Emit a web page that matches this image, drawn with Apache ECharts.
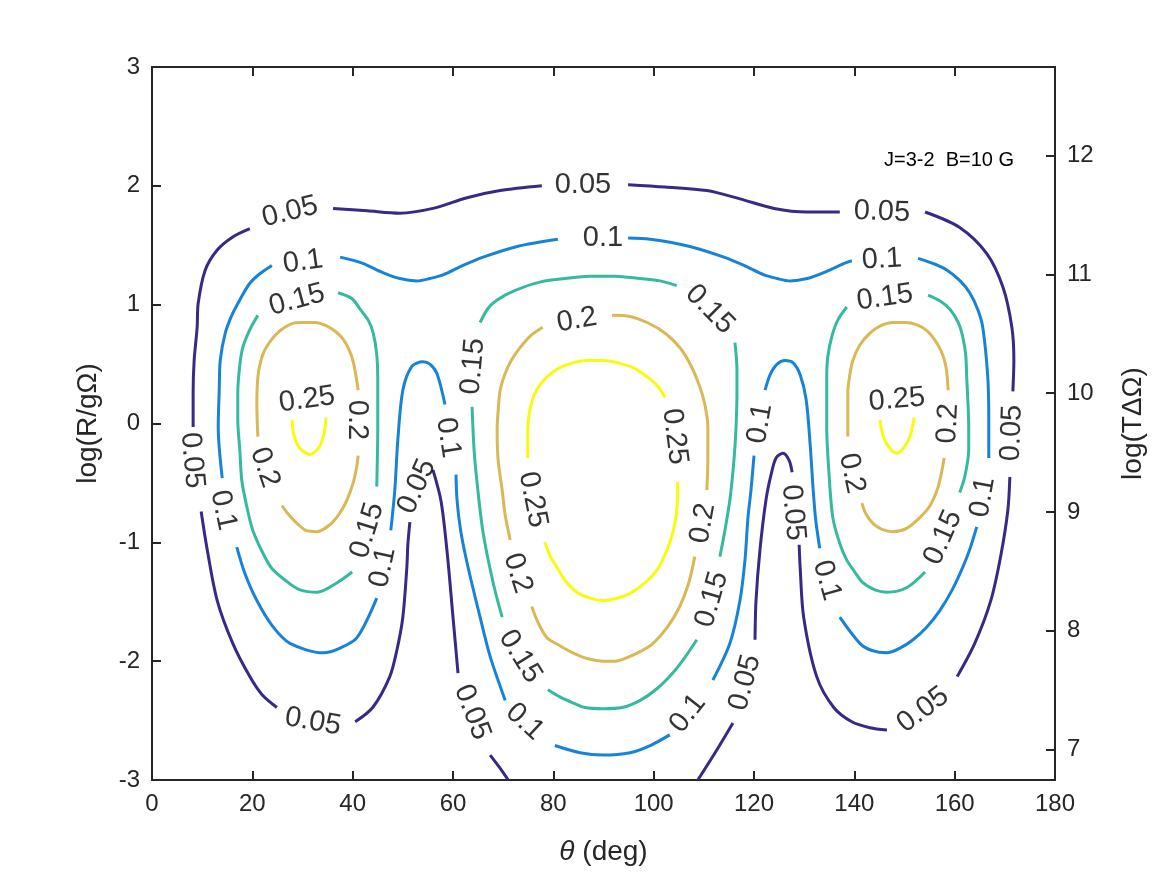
<!DOCTYPE html>
<html>
<head>
<meta charset="utf-8">
<script src="https://cdn.jsdelivr.net/npm/echarts@6/dist/echarts.min.js"></script>
<style>
  html, body { margin: 0; padding: 0; background: #fff; }
  #chart { width: 1167px; height: 875px; }
</style>
</head>
<body>
<div id="chart"></div>
<script>
var chart = echarts.init(document.getElementById('chart'));

// contour levels and their colours (parula)
var levels = ['0.05', '0.1', '0.15', '0.2', '0.25'];
var levelColors = ['#352a87', '#1683d8', '#35b99f', '#d9b855', '#f9fb0e'];

// contour pieces: [theta (deg), log(R/gOmega)], broken where labels sit
var c005 = [
    [[71.0,-3.0],[69.2,-2.89],[67.4,-2.79]],
    [[61.0,-2.10],[60.0,-1.63],[58.8,-1.07],[57.6,-0.65],[56.0,-0.39]],
    [[51.4,-0.83],[51.0,-1.02],[50.8,-1.21],[50.0,-1.63],[48.8,-1.91],[47.4,-2.13],[44.0,-2.39],[40.5,-2.51]],
    [[24.9,-2.39],[21.9,-2.28],[19.5,-2.13],[16.1,-1.85],[13.0,-1.49],[11.0,-1.06],[9.8,-0.74]],
    [[8.2,-0.03],[8.2,0.26],[8.4,0.53],[9.0,0.81],[9.2,1.01],[10.6,1.29],[13.0,1.46],[16.1,1.57],[19.5,1.64]],
    [[36.1,1.81],[42.9,1.79],[49.4,1.77],[56.0,1.81],[62.8,1.90],[69.4,1.96],[77.7,2.00]],
    [[94.9,2.01],[102.3,1.99],[110.6,1.96],[117.2,1.89],[124.0,1.81],[130.6,1.78],[137.1,1.78]],
    [[154.1,1.78],[161.0,1.65],[166.4,1.43],[169.6,1.15],[171.4,0.81],[171.8,0.53],[171.6,0.27]],
    [[171.0,-0.45],[170.6,-0.73],[169.2,-1.11],[167.2,-1.49],[164.0,-1.85],[160.5,-2.13]],
    [[146.5,-2.58],[143.1,-2.56],[139.5,-2.51],[135.9,-2.39],[132.5,-2.13],[129.9,-1.63],[129.2,-1.21],[129.0,-1.02]],
    [[127.6,-0.41],[127.0,-0.31],[125.8,-0.25],[124.4,-0.29],[123.4,-0.43],[122.4,-0.64],[121.2,-1.06],[120.4,-1.49],[120.2,-1.82]],
    [[115.8,-2.52],[112.4,-2.76],[108.8,-3.0]]
];
var c010 = [
    [[80.3,-2.71],[85.3,-2.77],[89.9,-2.79],[95.3,-2.77],[99.3,-2.71],[103.2,-2.62]],
    [[70.4,-2.33],[67.4,-1.96],[65.4,-1.63],[63.0,-1.21],[61.6,-0.92],[60.8,-0.64],[60.6,-0.43]],
    [[58.4,0.16],[56.8,0.42],[55.4,0.50],[54.0,0.52],[51.8,0.48],[50.0,0.28],[49.0,-0.14],[48.4,-0.56],[47.6,-0.90]],
    [[44.8,-1.47],[40.9,-1.80],[37.5,-1.89],[34.1,-1.93],[27.5,-1.85],[24.1,-1.71],[20.9,-1.49],[18.5,-1.26],[16.9,-1.04]],
    [[14.0,-0.46],[13.2,-0.03],[13.4,0.28],[13.6,0.53],[14.6,0.76],[15.9,0.91],[17.5,1.04],[19.5,1.18],[21.5,1.26],[23.9,1.33]],
    [[37.5,1.40],[41.9,1.35],[46.0,1.27],[49.4,1.22],[52.8,1.20],[55.4,1.22],[58.0,1.25],[62.0,1.33],[66.0,1.40],[72.8,1.49],[80.9,1.55]],
    [[94.9,1.56],[99.3,1.55],[107.2,1.49],[114.0,1.40],[118.0,1.33],[122.0,1.25],[124.6,1.22],[127.2,1.20],[130.6,1.22],[133.9,1.27],[138.1,1.35],[139.5,1.37]],
    [[152.7,1.39],[156.1,1.34],[158.5,1.29],[161.1,1.20],[163.0,1.10],[164.6,0.96],[165.6,0.81],[166.6,0.39],[166.8,0.03],[166.8,-0.29]],
    [[164.4,-0.87],[163.0,-1.06],[161.6,-1.21],[159.5,-1.40],[157.1,-1.57],[154.5,-1.71],[151.7,-1.82],[149.1,-1.89],[146.5,-1.93],[143.5,-1.91],[141.1,-1.85],[137.1,-1.63]],
    [[133.1,-1.05],[132.3,-0.81],[131.8,-0.56],[131.2,-0.18],[130.4,0.20],[129.2,0.41],[127.8,0.51],[126.2,0.53],[124.6,0.50],[123.2,0.41],[122.2,0.28]],
    [[120.0,-0.27],[119.4,-0.56],[118.8,-0.79],[118.2,-1.15],[117.2,-1.49],[115.2,-1.85],[111.8,-2.16]]
];
var c015 = [
    [[37.1,1.10],[39.9,1.05],[41.5,0.96],[43.1,0.87],[44.1,0.76],[44.8,0.58],[45.0,0.39],[45.0,-0.03],[44.8,-0.53]],
    [[39.9,-1.25],[36.9,-1.34],[32.9,-1.42],[29.5,-1.40],[26.9,-1.33],[23.9,-1.22],[22.1,-1.09],[20.1,-0.90],[18.9,-0.70],[17.9,-0.48],[17.5,-0.22],[17.1,0.03],[17.1,0.26],[17.5,0.49],[18.1,0.64],[19.5,0.79],[21.1,0.91]],
    [[138.5,0.98],[136.7,0.87],[135.5,0.73],[134.7,0.56],[134.5,0.39],[134.5,-0.03],[134.9,-0.39],[135.7,-0.79],[137.1,-1.01],[138.5,-1.15],[140.1,-1.25],[141.7,-1.34],[144.1,-1.40],[146.5,-1.42],[150.5,-1.38],[154.1,-1.25]],
    [[161.0,-0.58],[162.0,-0.45],[162.8,-0.22],[162.8,-0.03],[162.4,0.39],[162.2,0.58],[161.6,0.73],[160.7,0.85],[159.1,0.96],[157.1,1.03],[154.7,1.08]],
    [[65.4,0.85],[67.0,0.97],[68.8,1.04],[72.4,1.12],[77.3,1.19],[82.3,1.22],[87.3,1.24],[92.3,1.24],[97.3,1.22],[101.3,1.20],[104.6,1.16]],
    [[116.2,0.68],[116.6,0.45],[116.6,0.26],[116.4,-0.05],[116.0,-0.31],[115.2,-0.64],[114.2,-0.90],[113.2,-1.12]],
    [[108.6,-1.82],[106.2,-1.97],[103.8,-2.10],[100.7,-2.23],[97.3,-2.33],[93.7,-2.39],[89.9,-2.40],[86.3,-2.39],[83.9,-2.35],[81.3,-2.30],[78.9,-2.24]],
    [[69.8,-1.63],[68.0,-1.34],[66.0,-0.92],[64.8,-0.50],[64.2,-0.22],[63.8,0.14]]
];
var c020 = [
    [[21.1,-0.11],[20.9,0.16],[21.1,0.39],[21.7,0.53],[22.5,0.62],[23.9,0.71],[25.5,0.78],[27.9,0.84],[30.1,0.85],[32.5,0.85],[34.9,0.82],[36.7,0.77],[38.1,0.71],[39.3,0.62],[40.1,0.52],[40.7,0.39],[41.1,0.28]],
    [[41.1,-0.27],[40.7,-0.39],[40.1,-0.50],[38.9,-0.64],[37.5,-0.75],[35.5,-0.85],[32.9,-0.91],[30.7,-0.90],[28.9,-0.84],[27.1,-0.76],[25.9,-0.69]],
    [[138.7,-0.11],[138.7,0.11],[138.7,0.26],[139.1,0.41],[139.7,0.53],[141.1,0.66],[143.1,0.76],[145.1,0.82],[147.7,0.85],[150.1,0.85],[152.5,0.83],[154.5,0.78],[156.1,0.70],[157.3,0.61],[158.1,0.51],[158.5,0.40],[158.7,0.28]],
    [[157.9,-0.29],[157.3,-0.43],[156.5,-0.56],[155.1,-0.69],[153.1,-0.79],[150.5,-0.88],[147.7,-0.91],[145.5,-0.89],[143.7,-0.84],[142.3,-0.76],[141.5,-0.67]],
    [[91.7,0.91],[95.3,0.90],[98.7,0.85],[102.3,0.76],[105.2,0.64],[107.4,0.49],[109.2,0.31],[110.2,0.16],[110.8,-0.03],[110.8,-0.31],[110.6,-0.56]],
    [[108.2,-1.12],[107.0,-1.34],[105.2,-1.54],[102.8,-1.71],[99.9,-1.85],[97.3,-1.92],[94.7,-1.97],[92.3,-2.00],[89.9,-2.00],[86.9,-1.98],[83.9,-1.93],[81.3,-1.87],[78.7,-1.80],[76.9,-1.67],[75.7,-1.54]],
    [[71.4,-0.98],[70.4,-0.77],[69.8,-0.56],[69.0,-0.31],[68.8,-0.05],[69.0,0.11],[69.4,0.28],[70.4,0.42],[71.6,0.53],[73.4,0.64],[75.5,0.74],[77.9,0.81]]
];
var c025 = [
    [[27.9,0.03],[28.3,-0.10],[29.5,-0.21],[31.5,-0.26],[33.3,-0.20],[34.3,-0.08],[34.7,0.05]],
    [[145.1,0.03],[145.7,-0.10],[146.9,-0.20],[148.5,-0.25],[150.1,-0.19],[151.3,-0.08],[151.9,0.05]],
    [[74.9,-0.29],[74.9,-0.05],[75.3,0.11],[76.5,0.27],[78.7,0.39],[81.3,0.47],[83.9,0.51],[86.9,0.53],[89.9,0.53],[92.9,0.51],[95.9,0.47],[98.5,0.40],[100.7,0.32],[102.3,0.22]],
    [[104.8,-0.49],[104.6,-0.73],[103.8,-0.92],[102.4,-1.09],[100.7,-1.23],[98.3,-1.34],[95.3,-1.43],[92.7,-1.47],[89.9,-1.49],[87.3,-1.47],[84.7,-1.42],[82.5,-1.33],[80.7,-1.21],[79.3,-1.11],[78.3,-1.00]]
];

// inline labels: [theta, log(R/gOmega), rotation in degrees]
var lab005 = [[27.5,1.78,14],[85.9,2.01,0],[145.5,1.78,-2],[8.0,-0.31,-85],[32.1,-2.51,-10],[52.8,-0.53,66],
              [63.8,-2.43,-69],[118.2,-2.18,75],[127.8,-0.75,-85],[153.7,-2.41,37],[171.4,-0.08,88]];
var lab010 = [[30.1,1.36,8],[89.9,1.56,0],[145.5,1.38,3],[14.2,-0.73,-78],[46.0,-1.21,78],[59.0,-0.12,-81],
              [74.3,-2.51,-43],[106.8,-2.44,52],[121.2,0.0,80],[134.5,-1.32,-74],[165.6,-0.62,80]];
var lab015 = [[28.9,1.04,15],[42.9,-0.90,73],[146.1,1.06,8],[157.7,-0.96,66],[64.0,0.48,85],[111.2,0.96,-45],
              [73.4,-1.96,-58],[111.6,-1.48,74]];
var lab020 = [[40.9,0.03,-90],[22.5,-0.37,-71],[139.5,-0.42,-78],[158.7,0.0,87],[84.7,0.87,10],[109.8,-0.84,80],[72.9,-1.26,-72]];
var lab025 = [[30.9,0.20,8],[148.5,0.20,5],[104.2,-0.11,-83],[75.9,-0.64,-79]];

var contours = [c005, c010, c015, c020, c025];
var labels = [lab005, lab010, lab015, lab020, lab025];

var FONT = 'Liberation Sans, Arial, Helvetica, sans-serif';
var INK = '#262626';

var series = [];
contours.forEach(function (pieces, k) {
    pieces.forEach(function (seg) {
        series.push({
            type: 'line',
            data: seg,
            smooth: 0.3,
            showSymbol: false,
            silent: true,
            lineStyle: { color: levelColors[k], width: 3 },
            z: 2
        });
    });
});
labels.forEach(function (list, k) {
    series.push({
        type: 'scatter',
        symbolSize: 0,
        silent: true,
        z: 3,
        label: {
            show: true,
            position: 'inside',
            formatter: levels[k],
            fontSize: 29,
            fontFamily: FONT,
            color: '#000',
            textBorderWidth: 0
        },
        data: list.map(function (p) {
            return { value: [p[0], p[1]], label: { rotate: p[2] } };
        })
    });
});

function frameAxis(extra) {
    var base = {
        axisLine: { onZero: false, lineStyle: { color: INK, width: 2 } },
        axisTick: { inside: true, length: 9, lineStyle: { color: INK, width: 2 } },
        axisLabel: { fontSize: 24, color: INK, fontFamily: FONT, margin: 12 },
        splitLine: { show: false }
    };
    return Object.assign(base, extra);
}

var option = {
    animation: false,
    backgroundColor: '#fff',
    title: {
        text: 'J=3-2  B=10 G',
        left: 879,
        top: 145,
        textStyle: { fontSize: 20, fontWeight: 'normal', color: '#000', fontFamily: FONT }
    },
    grid: { left: 152, right: 112, top: 67, bottom: 95, show: true, borderColor: INK, borderWidth: 2 },
    xAxis: [
        frameAxis({
            type: 'value', min: 0, max: 180, interval: 20, position: 'bottom',
            name: '{i|θ} (deg)',
            nameLocation: 'middle',
            nameGap: 58,
            nameTextStyle: {
                fontSize: 28, color: INK, fontFamily: FONT,
                rich: { i: { fontSize: 28, fontStyle: 'italic', color: INK, fontFamily: FONT } }
            }
        }),
        frameAxis({
            type: 'value', min: 0, max: 180, interval: 20, position: 'top',
            axisLabel: { show: false }
        })
    ],
    yAxis: [
        frameAxis({
            type: 'value', min: -3, max: 3, interval: 1, position: 'left',
            name: 'log(R/gΩ)',
            nameLocation: 'middle',
            nameGap: 50,
            nameRotate: 90,
            nameTextStyle: { fontSize: 28, color: INK, fontFamily: FONT }
        }),
        frameAxis({
            type: 'value', min: 6.745, max: 12.745, splitNumber: 6, position: 'right',
            axisLabel: {
                fontSize: 24, color: INK, fontFamily: FONT, margin: 12,
                showMinLabel: false, showMaxLabel: false,
                formatter: function (v) { return Math.abs(v - Math.round(v)) < 1e-6 ? String(Math.round(v)) : ''; }
            },
            name: 'log(TΔΩ)',
            nameLocation: 'middle',
            nameGap: 64,
            nameRotate: 90,
            nameTextStyle: { fontSize: 28, color: INK, fontFamily: FONT }
        })
    ],
    series: series
};

chart.setOption(option);
</script>
</body>
</html>
